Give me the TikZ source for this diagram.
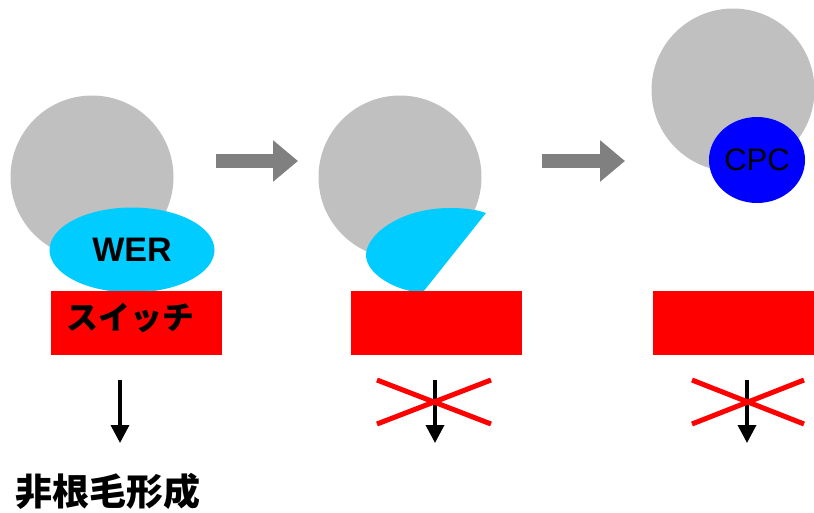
\documentclass[tikz,border=0pt]{standalone}
\usepackage{fontspec}
\setmainfont{Liberation Sans}
\newfontfamily\jpfont{Noto Sans CJK JP}
\usepackage{tikz}
\usetikzlibrary{arrows.meta}
\usetikzlibrary{shapes.geometric}
\definecolor{cellgray}{RGB}{192,192,192}
\definecolor{arrowgray}{RGB}{128,128,128}
\definecolor{wercyan}{RGB}{0,204,255}

\begin{document}
\begin{tikzpicture}[x=1pt, y=-1pt]
  \tikzset{every node/.style={inner sep=0pt, outer sep=0pt},
    cell/.style={ellipse, fill=cellgray, minimum size=163pt},
    switchbox/.style={rectangle, fill=red, minimum width=171pt, minimum height=64pt},
    stagearrow/.style={draw=arrowgray, line width=14pt, -{Triangle[length=25pt,width=40pt]}},
    downarrow/.style={draw=black, line width=3.5pt, -{Triangle[length=18pt,width=18pt]}},
    cross/.style={draw=red, line width=5pt}}
  \useasboundingbox (0,0) rectangle (814,512);

  % first cell: WER on the switch
  \node[cell] (cellA) at (92,177) {};
  \node[ellipse, fill=wercyan, minimum width=165pt, minimum height=85pt,
        font=\fontsize{34}{34}\selectfont\bfseries] (wer) at (132,250) {WER};
  \node[switchbox] (switchA) at (136.5,323) {};
  \node[anchor=west, font=\jpfont\fontsize{32}{32}\selectfont\bfseries] (swtext) at (66,318) {スイッチ};
  \coordinate (downAs) at (120,380);
  \coordinate (downAe) at (120,443);
  \draw[downarrow] (downAs) -- (downAe);
  \node[anchor=west, font=\jpfont\fontsize{37}{37}\selectfont\bfseries] (fate) at (16,491) {非根毛形成};

  \coordinate (goAs) at (216,161);
  \coordinate (goAe) at (298,161);
  \draw[stagearrow] (goAs) -- (goAe);

  % second cell: WER cut off
  \node[cell] (cellB) at (400,177) {};
  \fill[wercyan] (486,213) -- (423,292) -- (410,291)
    .. controls (385,285) and (366,270) .. (366,255)
    .. controls (366,235) and (400,208) .. (450,208)
    .. controls (470,208) and (480,211) .. (486,213) -- cycle;
  \node[switchbox] (switchB) at (436.5,323) {};
  \coordinate (downBs) at (435,380);
  \coordinate (downBe) at (435,443);
  \draw[downarrow] (downBs) -- (downBe);
  \coordinate (xBa) at (377,380);
  \coordinate (xBb) at (491,424);
  \coordinate (xBc) at (377,424);
  \coordinate (xBd) at (491,380);
  \draw[cross] (xBa) -- (xBb);
  \draw[cross] (xBc) -- (xBd);

  \coordinate (goBs) at (542,161);
  \coordinate (goBe) at (625,161);
  \draw[stagearrow] (goBs) -- (goBe);

  % third cell: CPC moved in
  \node[cell] (cellC) at (733,90) {};
  \node[ellipse, fill=blue, minimum width=96pt, minimum height=86pt,
        font=\fontsize{31}{31}\selectfont] (cpc) at (757,160) {CPC};
  \node[switchbox, minimum width=161pt] (switchC) at (733.5,323) {};
  \coordinate (downCs) at (747,380);
  \coordinate (downCe) at (747,443);
  \draw[downarrow] (downCs) -- (downCe);
  \coordinate (xCa) at (692,380);
  \coordinate (xCb) at (804,424);
  \coordinate (xCc) at (692,424);
  \coordinate (xCd) at (804,380);
  \draw[cross] (xCa) -- (xCb);
  \draw[cross] (xCc) -- (xCd);
\end{tikzpicture}
\end{document}
